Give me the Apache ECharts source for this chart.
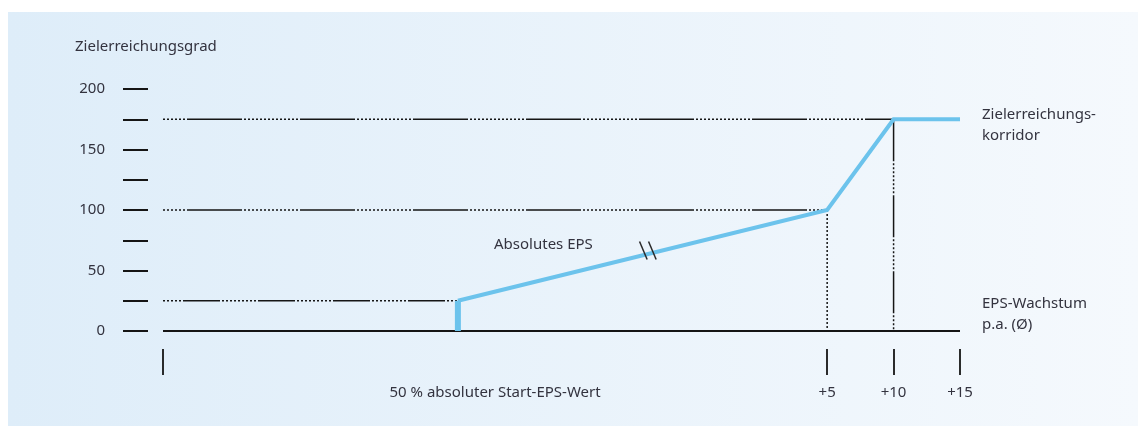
<!DOCTYPE html>
<html>
<head>
<meta charset="utf-8">
<script src="https://cdn.jsdelivr.net/npm/echarts@6/dist/echarts.min.js"></script>
<style>
  html, body { margin: 0; padding: 0; background: #ffffff; }
  #chart { width: 1138px; height: 434px; }
</style>
</head>
<body>
<div id="chart"></div>
<script>
// Zielerreichungsgrad in Abhängigkeit vom EPS-Wachstum (x: Prozentpunkte, links gestaucht)
const yTicks = [0, 25, 50, 75, 100, 125, 150, 175, 200];
const yLabels = [0, 50, 100, 150, 200];
const xTicks = [-45, 5, 10, 15];
const xLabelValues = [-20, 5, 10, 15];
const xLabelTexts = ['50 % absoluter Start-EPS-Wert', '+5', '+10', '+15'];

// Startpunkt: 50 % des absoluten Start-EPS-Werts
const startX = -22.8;
const startY = [0, 25];

// Verlauf des Zielerreichungsgrads
const curveX = [-22.8, 5, 10, 15];
const curveY = [25, 100, 175, 175];

// Hilfslinien
const xMin = -45;
const xMax = 15;
const levelLow = 25;
const levelMid = 100;
const levelHigh = 175;

// Achsenbruch auf der Linie "Absolutes EPS"
const breakPoint = [-8.5, 64];

const INK = '#151515';
const BLUE = '#6cc3ec';
const TEXT = '#33333f';
const FONT = 'Noto Sans';
const FS = 15;

// Strich, danach eine Folge kurzer Punkte (gerade Anzahl Einträge)
function dashDots(dash, dotCount) {
  const arr = [dash, 2];
  for (let i = 0; i < dotCount; i++) { arr.push(2, 2); }
  return arr;
}

function zip(xs, ys) { return xs.map((x, i) => [x, ys[i]]); }

function refLine(points, type, offset, width) {
  return {
    type: 'line', data: points, symbol: 'none', silent: true, z: 2,
    lineStyle: { color: INK, width: width || 1.5, type: type, dashOffset: offset || 0 }
  };
}

const chart = echarts.init(document.getElementById('chart'), null, { renderer: 'canvas' });

chart.setOption({
  backgroundColor: '#ffffff',
  animation: false,
  textStyle: { fontFamily: FONT },
  title: {
    text: 'Zielerreichungsgrad', left: 70, top: 34,
    textStyle: { fontFamily: FONT, fontSize: FS, fontWeight: 'normal', color: TEXT }
  },
  graphic: [
    {
      type: 'rect', z: -10, silent: true,
      shape: { x: 8, y: 12, width: 1130, height: 414 },
      style: {
        fill: new echarts.graphic.LinearGradient(0, 0, 1, 0, [
          { offset: 0, color: '#deedf9' },
          { offset: 1, color: '#f5f9fd' }
        ])
      }
    },
    {
      type: 'text', z: 100, left: 494, top: 237,
      style: { text: 'Absolutes EPS', font: FS + 'px "Noto Sans"', fill: TEXT }
    },
    {
      type: 'text', z: 100, left: 982, top: 104,
      style: { text: 'Zielerreichungs-\nkorridor', font: FS + 'px "Noto Sans"', lineHeight: 21, fill: TEXT }
    },
    {
      type: 'text', z: 100, left: 982, top: 293,
      style: { text: 'EPS-Wachstum\np.a. (Ø)', font: FS + 'px "Noto Sans"', lineHeight: 21, fill: TEXT }
    }
  ],
  grid: { left: 163, right: 178, top: 89, bottom: 103, containLabel: false },
  xAxis: {
    type: 'value', min: xMin, max: xMax, offset: 18,
    axisLine: { show: false, onZero: false },
    splitLine: { show: false },
    axisTick: { show: true, customValues: xTicks, length: 26, lineStyle: { color: INK, width: 1.8 } },
    axisLabel: {
      customValues: xLabelValues, margin: 36,
      fontFamily: FONT, fontSize: FS, color: TEXT,
      formatter: function (v) {
        const i = xLabelValues.indexOf(v);
        return i >= 0 ? xLabelTexts[i] : '';
      }
    }
  },
  yAxis: {
    type: 'value', min: 0, max: 200, interval: 25, offset: 15,
    axisLine: { show: false, onZero: false },
    splitLine: { show: false },
    axisTick: { show: true, customValues: yTicks, length: 25, lineStyle: { color: INK, width: 2 } },
    axisLabel: { customValues: yLabels, margin: 43, fontFamily: FONT, fontSize: FS, color: TEXT }
  },
  series: [
    // Nulllinie
    refLine([[xMin, 0], [xMax, 0]], 'solid', 0, 1.8),
    // horizontale Hilfslinien
    refLine([[xMin, levelLow], [startX, levelLow]], dashDots(37, 9), 55),
    refLine([[xMin, levelMid], [curveX[1], levelMid]], dashDots(55, 14), 89),
    refLine([[xMin, levelHigh], [curveX[2], levelHigh]], dashDots(55, 14), 89),
    // vertikale Hilfslinien
    refLine([[curveX[1], levelMid], [curveX[1], 0]], [2, 2], 0),
    refLine([[curveX[2], levelHigh], [curveX[2], 0]], dashDots(42, 8), 0),
    // Startsprung bei 50 % des absoluten Start-EPS-Werts
    {
      type: 'line', z: 4, symbol: 'none', silent: true,
      data: startY.map(y => [startX, y]),
      lineStyle: { color: BLUE, width: 6, cap: 'butt' }
    },
    // Zielerreichungskurve
    {
      type: 'line', z: 5, symbol: 'none', silent: true,
      data: zip(curveX, curveY),
      lineStyle: { color: BLUE, width: 4, join: 'miter' }
    },
    // Bruchzeichen
    {
      type: 'custom', z: 6, silent: true,
      data: [breakPoint],
      renderItem: function (params, api) {
        const p = api.coord([api.value(0), api.value(1)]);
        const cx = p[0], cy = p[1] - 3;
        const mk = function (dx) {
          return {
            type: 'line',
            shape: { x1: cx + dx - 3.8, y1: cy - 9, x2: cx + dx + 3.8, y2: cy + 9 },
            style: { stroke: '#2a2a2a', lineWidth: 1.5 }
          };
        };
        return { type: 'group', children: [mk(-4.5), mk(4.5)] };
      }
    }
  ]
});
</script>
</body>
</html>
